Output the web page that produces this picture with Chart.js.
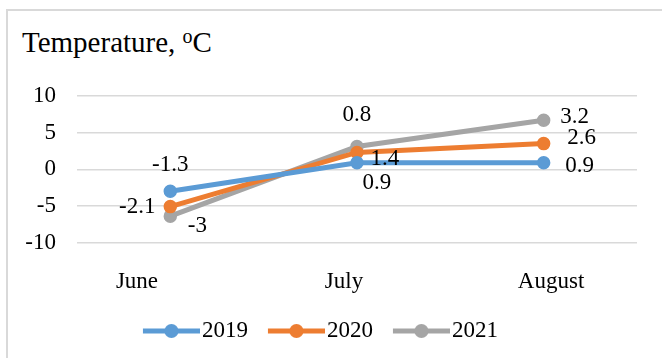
<!DOCTYPE html>
<html lang="en">
<head>
  <meta charset="UTF-8">
  <title>Temperature, oC</title>
  <script src="https://cdn.jsdelivr.net/npm/chart.js"></script>
  <style>
    html, body {
      margin: 0;
      padding: 0;
      background: #fff;
    }

    body {
      position: relative;
      width: 662px;
      height: 358px;
      overflow: hidden;
      font-family: 'Liberation Serif', 'Times New Roman', serif;
      color: #000;
    }

    .frame {
      position: absolute;
      left: 6px;
      top: 9px;
      width: 720px;
      height: 420px;
      border: 2px solid #d9d9d9;
    }

    .title {
      position: absolute;
      left: 22px;
      top: 27.5px;
      font-size: 29px;
      line-height: 29px;
      white-space: nowrap;
    }

    .title sup {
      font-size: 20px;
      line-height: 0;
      vertical-align: 9.5px;
    }

    .chart-box {
      position: absolute;
      left: 0;
      top: 0;
      width: 662px;
      height: 358px;
    }
  </style>
</head>
<body>

  <div class="frame"></div>
  <div class="title">Temperature, <sup>o</sup>C</div>
  <div class="chart-box">
    <canvas id="tempChart"></canvas>
  </div>

  <script>
    // chart data
    const months = ['June', 'July', 'August'];
    const years = ['2019', '2020', '2021'];
    const temp2019 = [-3, 0.9, 0.9];
    const temp2020 = [-2.1, 1.4, 2.6];
    const temp2021 = [-1.3, 0.8, 3.2];
    const yTicks = [-10, -5, 0, 5, 10];

    const colors = ['#5b9bd5', '#ed7d31', '#a5a5a5'];
    const serif = "'Liberation Serif', 'Times New Roman', serif";

    // where each value label sits, relative to its point (as in the original)
    const labelOffsets = [
      [[27, 35], [20, 20], [36, 3]],
      [[-33, 0], [28, 7], [38, -6]],
      [[0, -51], [0, -32], [31, -3]]
    ];

    // line + marker swatch for the legend (drawn to the right side of the image)
    function legendMark(color) {
      const c = document.createElement('canvas');
      c.width = 66;
      c.height = 16;
      const g = c.getContext('2d');
      g.strokeStyle = color;
      g.lineWidth = 5;
      g.beginPath();
      g.moveTo(9, 8);
      g.lineTo(66, 8);
      g.stroke();
      g.fillStyle = color;
      g.beginPath();
      g.arc(37.5, 8, 7, 0, Math.PI * 2);
      g.fill();
      return c;
    }
    const legendMarks = colors.map(legendMark);

    const pointLabels = {
      id: 'pointLabels',
      afterDatasetsDraw(chart) {
        const ctx = chart.ctx;
        ctx.save();
        ctx.font = '23px ' + serif;
        ctx.fillStyle = '#000';
        ctx.textAlign = 'center';
        ctx.textBaseline = 'middle';
        chart.data.datasets.forEach((ds, i) => {
          chart.getDatasetMeta(i).data.forEach((pt, j) => {
            const [dx, dy] = labelOffsets[i][j];
            ctx.fillText(String(ds.data[j]), pt.x + dx, pt.y + dy);
          });
        });
        ctx.restore();
      }
    };

    const series = [temp2019, temp2020, temp2021];
    const datasets = years.map((year, i) => ({
      label: year,
      data: series[i],
      borderColor: colors[i],
      backgroundColor: colors[i],
      borderWidth: 5,
      pointRadius: 6,
      pointBorderWidth: 1.5,
      pointBackgroundColor: colors[i],
      pointBorderColor: colors[i],
      fill: false,
      tension: 0
    }));

    new Chart(document.getElementById('tempChart'), {
      type: 'line',
      data: { labels: months, datasets },
      plugins: [pointLabels],
      options: {
        responsive: true,
        maintainAspectRatio: false,
        animation: false,
        events: [],
        layout: {
          padding: { top: 96, left: 4.3, right: 25, bottom: 5.5 }
        },
        scales: {
          x: {
            display: false,
            offset: true
          },
          // month names sit a little off the points in the original
          xl: {
            type: 'linear',
            position: 'bottom',
            min: -0.29,
            max: 2.415,
            afterBuildTicks: axis => {
              axis.ticks = months.map((m, i) => ({ value: i }));
            },
            afterFit: axis => {
              axis.height = 56.7;
            },
            ticks: {
              callback: v => months[v],
              font: { family: serif, size: 23 },
              color: '#000',
              padding: 25.7,
              maxRotation: 0
            },
            grid: { display: false, drawTicks: false },
            border: { display: false }
          },
          y: {
            stacked: true,
            min: -10,
            max: 10,
            afterBuildTicks: axis => {
              axis.ticks = yTicks.map(v => ({ value: v }));
            },
            ticks: {
              font: { family: serif, size: 23 },
              color: '#000',
              padding: 21
            },
            grid: { color: '#d9d9d9', lineWidth: 1.5, drawTicks: false },
            border: { display: false }
          }
        },
        plugins: {
          title: { display: false },
          tooltip: { enabled: false },
          legend: {
            position: 'bottom',
            labels: {
              usePointStyle: true,
              pointStyleWidth: 47.2,
              padding: 20.3,
              color: '#000',
              font: { family: serif, size: 23 },
              generateLabels: chart => {
                const items = Chart.defaults.plugins.legend.labels.generateLabels(chart);
                items.forEach((item, i) => { item.pointStyle = legendMarks[i]; });
                return items;
              }
            }
          }
        }
      }
    });
  </script>

</body>
</html>
